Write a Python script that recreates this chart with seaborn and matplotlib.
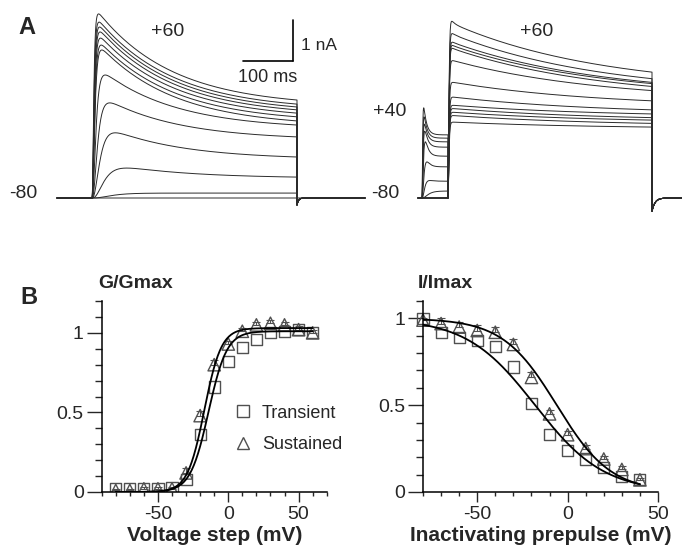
import numpy as np
import pandas as pd
import matplotlib
matplotlib.use("Agg")
import matplotlib.pyplot as plt
import seaborn as sns
from matplotlib.lines import Line2D
from matplotlib.ticker import MultipleLocator

# ---------------- data ----------------
# Panel A left: current traces for steps -60..+60 mV from -80 (nA)
step_peak_nA = [4.49, 4.29, 4.17, 4.05, 3.90, 3.73, 3.61, 3.00, 2.32, 1.59, 0.73, 0.12, 0.0]
step_end_nA = [2.39, 2.29, 2.22, 2.15, 2.07, 1.98, 1.88, 1.78, 1.49, 1.00, 0.51, 0.12, 0.0]
step_rise_ms = [2.2, 2.4, 2.6, 2.8, 3.0, 3.3, 3.6, 5.0, 7.0, 10.0, 16.0, 25.0, 30.0]
step_dur_ms = 410
step_tail_nA = -0.17

# Panel A right: prepulse (-80..+40 mV) then test step to +60 mV (nA)
pre_peak_nA = [0, 0, 0, 0, 0, 0.17, 0.44, 0.88, 1.37, 1.63, 1.80, 1.98, 2.20]
pre_end_nA = [0, 0, 0, 0, 0, 0.17, 0.41, 0.76, 1.02, 1.24, 1.37, 1.46, 1.54]
pre_rise_ms = [1, 1, 1, 1, 1, 8, 5, 3, 2, 1.5, 1.2, 1.0, 0.8]
test_peak_nA = [4.31, 4.01, 3.80, 3.72, 3.65, 3.35, 2.82, 2.46, 2.26, 2.18, 2.09, 2.01, 1.85]
test_end_nA = [3.07, 2.91, 2.82, 2.79, 2.72, 2.62, 2.37, 2.15, 2.05, 1.96, 1.90, 1.82, 1.73]
test_fast_nA = [0.25, 0.10, 0.05, 0.05, 0.05, 0, 0, 0, 0, 0, 0, 0, 0]
pre_dur_ms = 52
test_dur_ms = 408
test_tail_nA = -0.32

# Panel B left: activation
act_v = [-80, -70, -60, -50, -40, -30, -20, -10, 0, 10, 20, 30, 40, 50, 60]
act_transient = [0.02, 0.02, 0.02, 0.02, 0.03, 0.08, 0.36, 0.66, 0.82, 0.91, 0.96, 1.00, 1.01, 1.02, 1.00]
act_sustained = [0.01, 0.01, 0.02, 0.02, 0.02, 0.12, 0.48, 0.80, 0.93, 1.01, 1.05, 1.06, 1.05, 1.02, 1.00]
act_sus_err = [0.01, 0.01, 0.01, 0.01, 0.01, 0.03, 0.03, 0.03, 0.02, 0.02, 0.02, 0.02, 0.02, 0.02, 0.02]
# Boltzmann fits: (Vhalf, k, max)
act_fit_transient = (-14.0, 6.5, 1.01)
act_fit_sustained = (-17.0, 6.0, 1.03)

# Panel B right: inactivation
inact_v = [-80, -70, -60, -50, -40, -30, -20, -10, 0, 10, 20, 30, 40]
inact_transient = [1.00, 0.92, 0.89, 0.87, 0.84, 0.72, 0.51, 0.33, 0.24, 0.19, 0.14, 0.09, 0.07]
inact_sustained = [0.99, 0.97, 0.95, 0.93, 0.92, 0.85, 0.66, 0.45, 0.33, 0.25, 0.19, 0.13, 0.07]
inact_sus_err = [0.01, 0.03, 0.03, 0.03, 0.03, 0.03, 0.03, 0.02, 0.02, 0.02, 0.02, 0.02, 0.01]
inact_fit_transient = (-18.0, 19.0)
inact_fit_sustained = (-6.0, 15.0)

# ---------------- style ----------------
sns.set_style("ticks")
plt.rcParams['font.family'] = ['Liberation Sans', 'DejaVu Sans']
plt.rcParams['axes.unicode_minus'] = False

W, H = 682, 553
fig = plt.figure(figsize=(W / 100, H / 100), dpi=100)
TR = "#2b2b2b"


def P(x, y):
    return x / W, 1 - y / H


def kinetic(t, peak, end, rise, tau_h, T, fast=0.0, tau_f=6.0):
    if peak <= 0:
        return np.zeros_like(t)
    act = (1 - np.exp(-np.maximum(t, 0) / rise)) ** 3
    a = max(peak - fast - end, 0) / (1 - np.exp(-T / tau_h))
    y = None
    for _ in range(40):
        ss = end - a * np.exp(-T / tau_h)
        y = act * (ss + a * np.exp(-t / tau_h) + fast * np.exp(-t / tau_f))
        a += (peak - y.max())
    return y


# ---------------- Panel A left ----------------
axA1 = fig.add_axes([0, (H - 230) / H, 370 / W, 230 / H])
rows = []
for i in range(len(step_peak_nA)):
    t0 = np.arange(-70, 0, 1.0)
    t1 = np.linspace(0, step_dur_ms, 821)
    t2 = np.linspace(step_dur_ms, 546, 137)
    y1 = kinetic(t1, step_peak_nA[i], step_end_nA[i], step_rise_ms[i], 150.0, step_dur_ms)
    tail = step_tail_nA if step_peak_nA[i] > 0 else 0.0
    y2 = tail * np.exp(-(t2 - step_dur_ms) / 3.0)
    t = np.concatenate([t0, t1, t2])
    y = np.concatenate([np.zeros_like(t0), y1, y2])
    rows.append(pd.DataFrame({"t": t, "I": y, "trace": i}))
dfA1 = pd.concat(rows, ignore_index=True)
sns.lineplot(data=dfA1, x="t", y="I", units="trace", estimator=None, sort=False,
             color=TR, lw=0.7, ax=axA1, legend=False)
axA1.set_xlim((0 - 92) / 0.5, (370 - 92) / 0.5)
axA1.set_ylim(-32 / 41, 198 / 41)
axA1.axis("off")
# scale bar: 100 ms, 1 nA
axA1.plot([402, 402], [3.34, 4.34], color="black", lw=1.2)
axA1.plot([302, 402], [3.34, 3.34], color="black", lw=1.2)

# ---------------- Panel A right ----------------
axA2 = fig.add_axes([370 / W, (H - 230) / H, (W - 370) / W, 230 / H])
rows = []
for i in range(len(test_peak_nA)):
    th = np.arange(-8, 0, 1.0)
    tp = np.linspace(0, pre_dur_ms, 105)
    tt = np.linspace(pre_dur_ms, pre_dur_ms + test_dur_ms, 817)
    te = np.linspace(pre_dur_ms + test_dur_ms, 520, 121)
    yp = kinetic(tp, pre_peak_nA[i], pre_end_nA[i], pre_rise_ms[i], 6.0, pre_dur_ms)
    yt = kinetic(tt - pre_dur_ms, test_peak_nA[i], test_end_nA[i], 1.2, 300.0, test_dur_ms,
                 fast=test_fast_nA[i], tau_f=6.0)
    ye = test_tail_nA * np.exp(-(te - te[0]) / 6.0)
    t = np.concatenate([th, tp, tt, te])
    y = np.concatenate([np.zeros_like(th), yp, yt, ye])
    rows.append(pd.DataFrame({"t": t, "I": y, "trace": i}))
dfA2 = pd.concat(rows, ignore_index=True)
sns.lineplot(data=dfA2, x="t", y="I", units="trace", estimator=None, sort=False,
             color=TR, lw=0.7, ax=axA2, legend=False)
axA2.set_xlim((370 - 422) / 0.5, (W - 422) / 0.5)
axA2.set_ylim(-32 / 41, 198 / 41)
axA2.axis("off")

# Panel A texts
fs_a = 14
fig.text(*P(27, 28), "A", fontsize=17, fontweight="bold", ha="center", va="center")
fig.text(*P(168, 31), "+60", fontsize=fs_a, ha="center", va="center")
fig.text(*P(301, 45), "1 nA", fontsize=12.5, ha="left", va="center")
fig.text(*P(268, 77), "100 ms", fontsize=13, ha="center", va="center")
fig.text(*P(23, 194), "-80", fontsize=fs_a, ha="center", va="center")
fig.text(*P(537, 32), "+60", fontsize=fs_a, ha="center", va="center")
fig.text(*P(390, 112), "+40", fontsize=fs_a, ha="center", va="center")
fig.text(*P(385, 193), "-80", fontsize=fs_a, ha="center", va="center")

# ---------------- Panel B ----------------
EC = "#505050"


def style_axis(ax, ymax):
    sns.despine(ax=ax)
    ax.set_ylim(0, ymax)
    ax.set_yticks([0, 0.5, 1])
    ax.set_yticklabels(["0", "0.5", "1"])
    ax.yaxis.set_minor_locator(MultipleLocator(0.1))
    ax.set_xticks([-50, 0, 50])
    ax.set_xticklabels(["-50", "0", "50"])
    ax.xaxis.set_minor_locator(MultipleLocator(10))
    ax.tick_params(axis="x", which="major", length=7.2, width=1, pad=3, labelsize=14, direction="out")
    ax.tick_params(axis="x", which="minor", length=3, width=1, direction="out")
    ax.tick_params(axis="y", which="major", length=11, width=1, pad=2, labelsize=14, direction="out")
    ax.tick_params(axis="y", which="minor", length=5, width=1, direction="out")
    for s in ["left", "bottom"]:
        ax.spines[s].set_linewidth(1.1)
        ax.spines[s].set_color("black")
    ax.set_ylabel("")


axB1 = fig.add_axes([101.7 / W, 61 / H, 225 / W, 191 / H])
vv = np.linspace(-80, 60, 281)
for (vh, k, mx) in [act_fit_transient, act_fit_sustained]:
    sns.lineplot(x=vv, y=mx / (1 + np.exp((vh - vv) / k)), color="black", lw=1.3, ax=axB1, zorder=3)
axB1.errorbar(act_v, act_sustained, yerr=[np.zeros(len(act_v)), act_sus_err], fmt="none",
              ecolor=EC, elinewidth=0.8, capsize=3, capthick=0.8, zorder=2)
sns.scatterplot(x=act_v, y=act_transient, marker="s", s=64, facecolor="none", edgecolor=EC,
                linewidth=1, ax=axB1, zorder=2)
sns.scatterplot(x=act_v, y=act_sustained, marker="^", s=80, facecolor="none", edgecolor=EC,
                linewidth=1, ax=axB1, zorder=2)
axB1.set_xlim(-90, 70)
style_axis(axB1, 1.2)
axB1.set_xlabel("Voltage step (mV)", fontsize=15, fontweight="bold", labelpad=2)

axB2 = fig.add_axes([423 / W, 61 / H, 235 / W, 191 / H])
vv2 = np.linspace(-80, 40, 241)
for (vh, k) in [inact_fit_transient, inact_fit_sustained]:
    sns.lineplot(x=vv2, y=1 / (1 + np.exp((vv2 - vh) / k)), color="black", lw=1.3, ax=axB2, zorder=3)
axB2.errorbar(inact_v, inact_sustained, yerr=[np.zeros(len(inact_v)), inact_sus_err], fmt="none",
              ecolor=EC, elinewidth=0.8, capsize=3, capthick=0.8, zorder=2)
sns.scatterplot(x=inact_v, y=inact_transient, marker="s", s=64, facecolor="none", edgecolor=EC,
                linewidth=1, ax=axB2, zorder=2, clip_on=False)
sns.scatterplot(x=inact_v, y=inact_sustained, marker="^", s=80, facecolor="none", edgecolor=EC,
                linewidth=1, ax=axB2, zorder=2, clip_on=False)
axB2.set_xlim(-80, 50)
style_axis(axB2, 1.1)
axB2.set_xlabel("Inactivating prepulse (mV)", fontsize=15, fontweight="bold", labelpad=2)

fig.text(*P(29, 297), "B", fontsize=17, fontweight="bold", ha="center", va="center")
fig.text(*P(98, 284), "G/Gmax", fontsize=14, fontweight="bold", ha="left", va="center")
fig.text(*P(418, 284), "I/Imax", fontsize=14, fontweight="bold", ha="left", va="center")

handles = [Line2D([], [], marker="s", ls="none", mfc="none", mec=EC, ms=8, mew=1),
           Line2D([], [], marker="^", ls="none", mfc="none", mec=EC, ms=9, mew=1)]
fig.legend(handles, ["Transient", "Sustained"], loc="center left",
           bbox_to_anchor=P(234, 429), frameon=False, fontsize=13,
           handlelength=1.0, handletextpad=0.55, labelspacing=0.8,
           borderpad=0, borderaxespad=0)

fig.savefig("out.png", dpi=100)
